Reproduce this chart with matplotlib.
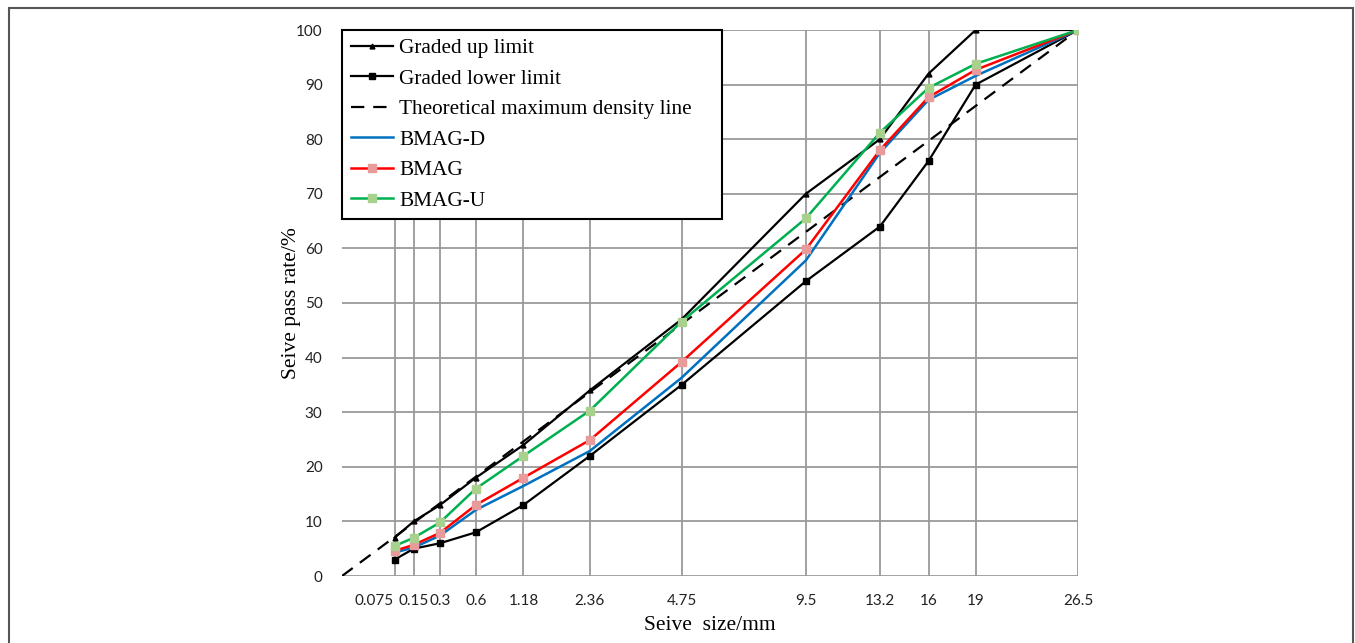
import numpy as np
import matplotlib.pyplot as plt
import matplotlib.transforms as mtransforms
from matplotlib.patches import Rectangle

# sieve sizes (mm) and passing rates (%)
sizes = [0.075, 0.15, 0.3, 0.6, 1.18, 2.36, 4.75, 9.5, 13.2, 16, 19, 26.5]
size_labels = ['0.075', '0.15', '0.3', '0.6', '1.18', '2.36', '4.75', '9.5', '13.2', '16', '19', '26.5']
upper = [7, 10, 13, 18, 24, 34, 47, 70, 80, 92, 100, 100]
lower = [3, 5, 6, 8, 13, 22, 35, 54, 64, 76, 90, 100]
bmag_d = [4.3, 5.2, 7.4, 12.1, 16.5, 22.9, 36.3, 57.8, 77.5, 87.2, 91.6, 100]
bmag = [4.6, 5.7, 7.9, 13, 18, 24.9, 39.2, 59.8, 78, 87.7, 92.7, 100]
bmag_u = [5.5, 7, 9.8, 16, 22, 30.3, 46.6, 65.5, 81.2, 89.4, 93.8, 100]
tmd_x = [0, 26.5]
tmd_y = [0, 100]

serif = ['Liberation Serif', 'DejaVu Serif']
sans = ['Lato', 'DejaVu Sans']

fig = plt.figure(figsize=(13.55, 6.43), dpi=100)
ax = fig.add_axes([342/1355, 1-576/643, (1078-342)/1355, (576-30)/643])

# gradation chart: x axis on d^0.45 scale
fwd = lambda x: np.sign(x) * np.abs(x) ** 0.45
inv = lambda x: np.sign(x) * np.abs(x) ** (1/0.45)
ax.set_xscale('function', functions=(fwd, inv))

ax.plot(sizes, upper, color='black', lw=1.6, marker='^', ms=3.5, label='Graded up limit')
ax.plot(sizes, lower, color='black', lw=1.6, marker='s', ms=4, label='Graded lower limit')
ax.plot(tmd_x, tmd_y, color='black', lw=1.6, ls=(0, (6, 4)), label='Theoretical maximum density line')
ax.plot(sizes, bmag_d, color='#0070C0', lw=1.8, label='BMAG-D')
ax.plot(sizes, bmag, color='#FF0000', lw=1.8, marker='s', ms=6,
        mfc='#E99A9A', mec='#E99A9A', label='BMAG')
ax.plot(sizes, bmag_u, color='#00B050', lw=1.8, marker='s', ms=6,
        mfc='#A9D18E', mec='#A9D18E', label='BMAG-U')

ax.set_xlim(0, 26.5)
ax.set_ylim(0, 100)
ax.set_xticks(sizes)
ax.set_xticklabels(size_labels, family=sans)
ax.set_yticks(range(0, 101, 10))
for lab in ax.get_yticklabels():
    lab.set_family(sans)
for s in ax.spines.values():
    s.set_visible(False)
ax.tick_params(length=0, labelsize=11, colors='#222222')
ax.tick_params(axis='x', pad=13)
ax.tick_params(axis='y', pad=14)
# first label sits left of its grid line
lab0 = ax.get_xticklabels()[0]
lab0.set_transform(lab0.get_transform() + mtransforms.ScaledTranslation(-0.2, 0, fig.dpi_scale_trans))

for s in sizes:
    ax.axvline(s, color='#9a9a9a', lw=1.3, zorder=0)
for v in range(0, 101, 10):
    ax.axhline(v, color='#9a9a9a', lw=1.3, zorder=0)

ax.set_xlabel('Seive  size/mm', family=serif, fontsize=15.5, labelpad=6)
ax.set_ylabel('Seive pass rate/%', family=serif, fontsize=15.5, labelpad=-4)

leg = ax.legend(loc='upper left', bbox_to_anchor=(0, 0, 380/736, 1), mode='expand',
                borderaxespad=0, fancybox=False, edgecolor='black', framealpha=1,
                prop={'family': serif, 'size': 15.3}, handlelength=2.0,
                handletextpad=0.3, labelspacing=0.5, borderpad=0.4)
leg.get_frame().set_linewidth(1.5)

fig.patches.append(Rectangle((9/1355, -0.05), (1353-9)/1355, 1.05 - 8/643,
                             transform=fig.transFigure, fill=False,
                             edgecolor='#555555', lw=1.5))

fig.savefig('out.png', dpi=100)
